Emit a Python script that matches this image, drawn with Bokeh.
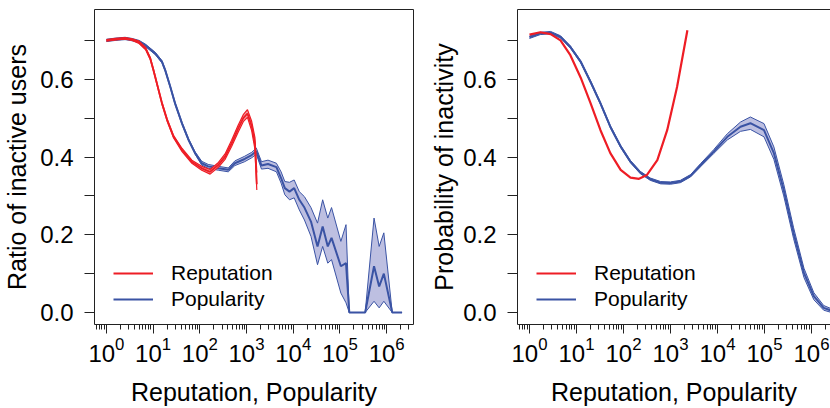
from bokeh.plotting import figure
from bokeh.layouts import row
from bokeh.models import (Range1d, FixedTicker, PrintfTickFormatter, LogTickFormatter,
                          Legend, LegendItem, LogAxis)
from bokeh.embed import file_html
from bokeh.resources import INLINE

# ---------------- data ----------------
# Left panel: empirical ratio of inactive users
rep_x = [1, 1.58, 2.51, 3.55, 5.01, 6.92, 8.71, 10.2, 12.3, 15.5, 20.0, 27.5, 41.7, 67.6,
         110, 166, 251, 347, 479, 661, 851, 1047, 1288, 1514, 1660]
rep_mid = [0.700, 0.703, 0.705, 0.702, 0.695, 0.679, 0.653, 0.623, 0.585, 0.538, 0.495, 0.452,
           0.418, 0.388, 0.371, 0.362, 0.380, 0.401, 0.435, 0.473, 0.500, 0.512, 0.480, 0.435, 0.330]
rep_low = [0.698, 0.701, 0.703, 0.700, 0.692, 0.676, 0.650, 0.620, 0.582, 0.535, 0.492, 0.449,
           0.414, 0.384, 0.366, 0.356, 0.374, 0.394, 0.427, 0.464, 0.491, 0.502, 0.468, 0.420, 0.315]
rep_up = [0.702, 0.705, 0.707, 0.704, 0.698, 0.682, 0.656, 0.626, 0.588, 0.541, 0.498, 0.455,
          0.422, 0.392, 0.376, 0.368, 0.386, 0.408, 0.443, 0.482, 0.509, 0.522, 0.492, 0.450, 0.360]

pop_x = [1, 1.58, 2.51, 3.55, 5.01, 6.92, 11.2, 15.5, 18.2, 23.4,
         29.5, 41.7, 57.5, 79.4, 110, 151, 251, 407, 562, 912,
         1288, 1622, 2089, 2884, 4365, 5495, 6607, 8318, 10470, 13490,
         17380, 23990, 33110, 42660, 54950, 66070, 104700, 134900, 158500, 346700,
         537000, 691800, 871000, 1318000, 2138000]
pop_mid = [0.700, 0.703, 0.705, 0.702, 0.697, 0.687, 0.666, 0.645, 0.623, 0.580,
           0.538, 0.486, 0.444, 0.410, 0.384, 0.376, 0.371, 0.367, 0.384, 0.395,
           0.405, 0.415, 0.378, 0.382, 0.374, 0.346, 0.320, 0.311, 0.320, 0.290,
           0.270, 0.234, 0.170, 0.221, 0.170, 0.192, 0.119, 0.127, 0.0, 0.0,
           0.119, 0.067, 0.100, 0.0, 0.0]
pop_low = [0.697, 0.700, 0.702, 0.699, 0.694, 0.684, 0.663, 0.642, 0.620, 0.577,
           0.535, 0.483, 0.441, 0.407, 0.379, 0.371, 0.366, 0.362, 0.378, 0.388,
           0.398, 0.407, 0.369, 0.371, 0.362, 0.333, 0.303, 0.290, 0.295, 0.264,
           0.238, 0.196, 0.123, 0.170, 0.127, 0.136, 0.050, 0.025, 0.0, 0.0,
           0.029, 0.012, 0.029, 0.0, 0.0]
pop_up = [0.703, 0.706, 0.708, 0.705, 0.700, 0.690, 0.669, 0.648, 0.626, 0.583,
          0.541, 0.489, 0.447, 0.413, 0.389, 0.381, 0.376, 0.372, 0.390, 0.402,
          0.412, 0.423, 0.388, 0.392, 0.384, 0.362, 0.337, 0.335, 0.341, 0.311,
          0.298, 0.270, 0.230, 0.290, 0.243, 0.270, 0.183, 0.226, 0.0, 0.0,
          0.243, 0.170, 0.205, 0.0, 0.0]

# Right panel: fitted probability of inactivity
fit_rep_x = [1, 1.70, 2.82, 4.57, 7.41, 12.3, 20.0, 32.4, 52.5, 87.1, 141, 214, 316, 525,
             851, 1380, 2291]
fit_rep = [0.715, 0.721, 0.716, 0.700, 0.662, 0.604, 0.538, 0.469, 0.410, 0.367, 0.347, 0.344,
           0.354, 0.392, 0.469, 0.580, 0.726]

fit_pop_x = [1, 1.70, 2.82, 4.57, 7.41, 12.3, 20.0, 32.4, 52.5, 87.1,
             141, 229, 372, 617, 1000, 1622, 2692, 4365, 8318, 16220,
             30900, 50120, 97720, 158500, 257000, 416900, 691800, 1122000, 1820000, 2512000]
fit_pop = [0.708, 0.718, 0.720, 0.709, 0.683, 0.645, 0.593, 0.538, 0.478, 0.427,
           0.388, 0.360, 0.343, 0.334, 0.333, 0.337, 0.352, 0.379, 0.414, 0.452,
           0.478, 0.487, 0.469, 0.410, 0.315, 0.204, 0.102, 0.042, 0.012, 0.006]
fit_pop_low = [0.705, 0.715, 0.717, 0.706, 0.680, 0.642, 0.590, 0.535, 0.475, 0.424,
               0.385, 0.357, 0.340, 0.331, 0.330, 0.334, 0.349, 0.375, 0.409, 0.444,
               0.466, 0.471, 0.452, 0.394, 0.300, 0.190, 0.090, 0.033, 0.006, 0.001]
fit_pop_up = [0.711, 0.721, 0.723, 0.712, 0.686, 0.648, 0.596, 0.541, 0.481, 0.430,
              0.391, 0.363, 0.346, 0.337, 0.336, 0.340, 0.355, 0.383, 0.419, 0.460,
              0.490, 0.503, 0.486, 0.426, 0.330, 0.218, 0.114, 0.051, 0.018, 0.011]

x_major = [1, 10, 100, 1000, 1e4, 1e5, 1e6]
x_minor = [m * 10.0 ** k for k in range(-1, 7) for m in range(2, 10)]
y_major = [0.0, 0.2, 0.4, 0.6]
y_minor = [0.1, 0.3, 0.5, 0.7]
labels = ["Reputation", "Popularity"]

# ---------------- style ----------------
RED = "#EE1D25"
BLUE = "#3A53A4"
BAND = "#BDBFE1"
FONT = "Liberation Sans"
INK = "#222222"


def make_fig(xend, left, right, ylabel, outline, ylab_standoff):
    p = figure(width=415, height=408, x_axis_type="log",
               x_range=Range1d(10 ** -0.255, 10 ** xend),
               y_range=Range1d(-0.0308, 0.7795),
               output_backend="svg", toolbar_location=None,
               min_border_left=left, min_border_right=right,
               min_border_top=9, min_border_bottom=83)
    p.xgrid.visible = False
    p.ygrid.visible = False
    p.background_fill_color = "white"
    p.border_fill_color = "white"

    xa = p.below[0]
    xa.ticker = FixedTicker(ticks=x_major, minor_ticks=x_minor)
    xa.formatter = LogTickFormatter()
    xa.major_tick_out = 9
    xa.minor_tick_out = 5
    xa.major_tick_in = 0
    xa.minor_tick_in = 0
    xa.major_tick_line_color = INK
    xa.minor_tick_line_color = INK
    xa.major_label_text_font = FONT
    xa.major_label_text_font_size = "24px"
    xa.major_label_text_color = "black"
    xa.major_label_standoff = 3
    xa.axis_label = "Reputation, Popularity"
    xa.axis_label_text_font = FONT
    xa.axis_label_text_font_size = "25px"
    xa.axis_label_text_font_style = "normal"
    xa.axis_label_text_color = "black"
    xa.axis_label_standoff = 13

    ya = p.left[0]
    ya.ticker = FixedTicker(ticks=y_major, minor_ticks=y_minor)
    ya.formatter = PrintfTickFormatter(format="%.1f")
    ya.major_tick_out = 10
    ya.minor_tick_out = 10
    ya.major_tick_in = 0
    ya.minor_tick_in = 0
    ya.major_tick_line_color = INK
    ya.minor_tick_line_color = INK
    ya.major_label_text_font = FONT
    ya.major_label_text_font_size = "24px"
    ya.major_label_text_color = "black"
    ya.major_label_standoff = 11
    ya.major_label_orientation = "horizontal"
    ya.axis_label = ylabel
    ya.axis_label_text_font = FONT
    ya.axis_label_text_font_size = "25px"
    ya.axis_label_text_font_style = "normal"
    ya.axis_label_text_color = "black"
    ya.axis_label_standoff = ylab_standoff

    if outline:
        p.outline_line_color = INK
        p.outline_line_width = 1
        xa.axis_line_color = None
        ya.axis_line_color = None
    else:
        p.outline_line_color = None
        xa.axis_line_color = INK
        ya.axis_line_color = INK
        top = LogAxis(ticker=FixedTicker(ticks=[]), major_tick_out=0, minor_tick_out=0,
                      major_tick_in=0, minor_tick_in=0, major_label_text_font_size="0px",
                      major_label_standoff=0, axis_label=None,
                      axis_line_color=INK)
        p.add_layout(top, "above")
    return p


def add_legend(p, r_red, r_blue):
    leg = Legend(items=[LegendItem(label=labels[0], renderers=[r_red]),
                        LegendItem(label=labels[1], renderers=[r_blue])],
                 location=(19, 12), padding=0, margin=0, spacing=0,
                 border_line_color=None, background_fill_alpha=0,
                 glyph_width=40, glyph_height=26, label_height=26, label_standoff=18,
                 label_text_font=FONT, label_text_font_size="21px",
                 label_text_color="black")
    p.add_layout(leg)


# ---------------- left panel ----------------
p1 = make_fig(6.575, 92, 2, "Ratio of inactive users", True, 6)
p1.varea(x=pop_x, y1=pop_low, y2=pop_up, fill_color=BAND, fill_alpha=1)
p1.line(pop_x, pop_low, line_color=BLUE, line_width=1)
p1.line(pop_x, pop_up, line_color=BLUE, line_width=1)
rb1 = p1.line(pop_x, pop_mid, line_color=BLUE, line_width=2)
p1.varea(x=rep_x, y1=rep_low, y2=rep_up, fill_color="#F5A3A6", fill_alpha=1)
p1.line(rep_x, rep_low, line_color=RED, line_width=1.2)
p1.line(rep_x, rep_up, line_color=RED, line_width=1.2)
rr1 = p1.line(rep_x, rep_mid, line_color=RED, line_width=1.8)
add_legend(p1, rr1, rb1)

# ---------------- right panel ----------------
p2 = make_fig(6.405, 102, 0, "Probability of inactivity", False, 2)
p2.varea(x=fit_pop_x, y1=fit_pop_low, y2=fit_pop_up, fill_color=BAND, fill_alpha=1)
p2.line(fit_pop_x, fit_pop_low, line_color=BLUE, line_width=1)
p2.line(fit_pop_x, fit_pop_up, line_color=BLUE, line_width=1)
rb2 = p2.line(fit_pop_x, fit_pop, line_color=BLUE, line_width=2)
rr2 = p2.line(fit_rep_x, fit_rep, line_color=RED, line_width=2.2)
add_legend(p2, rr2, rb2)

layout = row(p1, p2)
open("out.html", "w").write(file_html(layout, INLINE))
